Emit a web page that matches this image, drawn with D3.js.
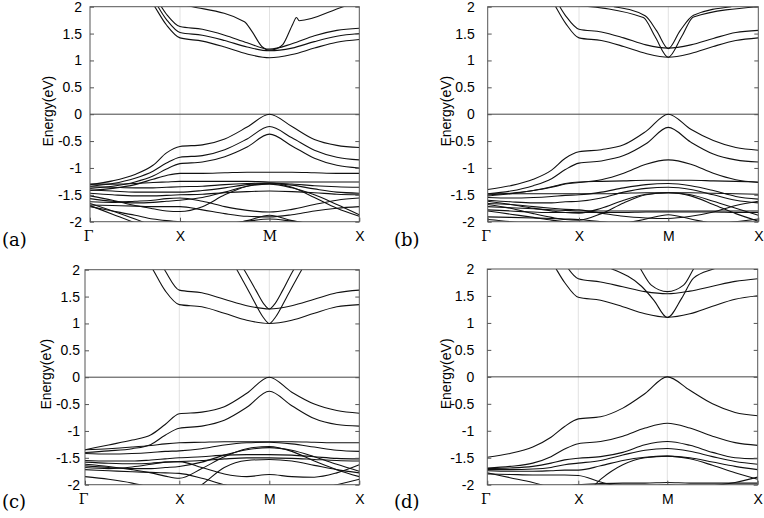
<!DOCTYPE html>
<html><head><meta charset="utf-8">
<script src="https://cdn.jsdelivr.net/npm/d3@7"></script>
<style>body{margin:0;background:#fff}svg{display:block}</style>
</head><body><svg id="chart" width="764" height="518"></svg>
<script>
// ---------- data ----------
const kTickLabels = ["Γ","X","M","X"];
const kTickPos = [0,1,2,3];
const kGrid = [0,0.25,0.5,0.7,0.85,1,1.25,1.5,1.75,2,2.25,2.5,2.75,3];
const yTicks = [2,1.5,1,0.5,0,-0.5,-1,-1.5,-2];
const yTickLabels = ["2","1.5","1","0.5","0","-0.5","-1","-1.5","-2"];
const panelLabels = ["(a)","(b)","(c)","(d)"];

const bandsA = [
 [3.5,3.0,2.5,2.05,1.66,1.42,1.36,1.25,1.12,1.05,1.11,1.23,1.34,1.39],
 [3.6,3.1,2.6,2.15,1.76,1.52,1.47,1.37,1.25,1.18,1.23,1.35,1.45,1.50],
 [3.7,3.2,2.7,2.25,1.86,1.63,1.58,1.47,1.33,1.21,1.31,1.46,1.56,1.60],
 [-1.31,-1.24,-1.12,-0.95,-0.72,-0.60,-0.57,-0.46,-0.24,0.0,-0.23,-0.47,-0.58,-0.62],
 [-1.34,-1.29,-1.19,-1.06,-0.91,-0.80,-0.77,-0.66,-0.46,-0.23,-0.44,-0.67,-0.80,-0.85],
 [-1.38,-1.34,-1.26,-1.15,-1.02,-0.92,-0.89,-0.79,-0.61,-0.37,-0.59,-0.82,-0.95,-1.00],
 [-1.42,-1.38,-1.31,-1.21,-1.14,-1.10,-1.10,-1.09,-1.08,-1.08,-1.08,-1.09,-1.10,-1.10],
 [-1.30,-1.30,-1.29,-1.27,-1.26,-1.25,-1.25,-1.25,-1.25,-1.26,-1.26,-1.26,-1.26,-1.26],
 [-1.35,-1.36,-1.37,-1.37,-1.36,-1.35,-1.34,-1.31,-1.29,-1.28,-1.30,-1.33,-1.35,-1.36],
 [-1.41,-1.43,-1.45,-1.45,-1.45,-1.45,-1.42,-1.37,-1.31,-1.29,-1.32,-1.39,-1.45,-1.47],
 [-1.47,-1.50,-1.52,-1.52,-1.51,-1.50,-1.49,-1.46,-1.44,-1.43,-1.44,-1.46,-1.49,-1.50],
 [-1.52,-1.60,-1.70,-1.76,-1.80,-1.81,-1.72,-1.50,-1.34,-1.28,-1.36,-1.55,-1.75,-1.90],
 [-1.57,-1.62,-1.65,-1.64,-1.62,-1.60,-1.55,-1.45,-1.34,-1.30,-1.37,-1.50,-1.68,-1.87],
 [-1.63,-1.64,-1.62,-1.60,-1.57,-1.56,-1.62,-1.72,-1.79,-1.82,-1.77,-1.68,-1.60,-1.56],
 [-1.69,-1.70,-1.71,-1.72,-1.72,-1.72,-1.78,-1.85,-1.90,-1.91,-1.87,-1.80,-1.75,-1.72],
 [-1.72,-1.80,-1.88,-1.95,-1.98,-2.00,-2.05,-2.05,-1.98,-1.88,-1.98,-2.05,-2.08,-2.10],
 [-1.66,-1.80,-1.95,-2.08,-2.18,-2.25,-2.30,-2.30,-2.30,-2.30,-2.30,-2.30,-2.30,-2.30],
 [-1.70,-1.86,-2.02,-2.14,-2.22,-2.28,-2.30,-2.30,-2.30,-2.30,-2.30,-2.30,-2.30,-2.30],
 [-2.30,-2.30,-2.25,-2.20,-2.12,-2.08,-2.06,-2.04,-1.99,-1.95,-1.99,-2.04,-2.06,-2.08]
];
const extraKA = [[1.02,1.14,1.72,1.80,1.92,2.0,2.08,2.15,2.26,2.30,2.33,2.82,2.9]];
const extraEA = [[2.04,2.0,1.72,1.55,1.25,1.19,1.22,1.30,1.68,1.80,1.74,2.0,2.04]];

const bandsB = [
 [3.5,3.0,2.5,2.12,1.70,1.42,1.37,1.26,1.13,1.06,1.13,1.26,1.37,1.42],
 [3.6,3.1,2.6,2.25,1.84,1.58,1.53,1.42,1.29,1.23,1.29,1.41,1.52,1.56],
 [-1.40,-1.33,-1.21,-1.04,-0.82,-0.70,-0.66,-0.57,-0.32,0.0,-0.28,-0.49,-0.62,-0.67],
 [-1.48,-1.43,-1.33,-1.20,-1.03,-0.91,-0.87,-0.77,-0.55,-0.245,-0.52,-0.74,-0.85,-0.89],
 [-1.50,-1.47,-1.42,-1.36,-1.30,-1.27,-1.22,-1.10,-0.93,-0.85,-0.93,-1.10,-1.22,-1.27],
 [-1.52,-1.48,-1.42,-1.35,-1.29,-1.26,-1.25,-1.24,-1.23,-1.23,-1.23,-1.24,-1.25,-1.26],
 [-1.48,-1.48,-1.48,-1.48,-1.48,-1.48,-1.48,-1.47,-1.46,-1.46,-1.46,-1.47,-1.48,-1.49],
 [-1.55,-1.56,-1.55,-1.53,-1.51,-1.50,-1.45,-1.37,-1.31,-1.29,-1.33,-1.42,-1.53,-1.58],
 [-1.60,-1.63,-1.65,-1.65,-1.63,-1.62,-1.56,-1.45,-1.38,-1.36,-1.40,-1.50,-1.60,-1.65],
 [-1.62,-1.68,-1.75,-1.80,-1.83,-1.84,-1.75,-1.60,-1.49,-1.46,-1.52,-1.68,-1.85,-1.99],
 [-1.68,-1.75,-1.85,-1.92,-1.96,-1.97,-1.85,-1.65,-1.50,-1.46,-1.50,-1.62,-1.75,-1.88],
 [-1.72,-1.74,-1.76,-1.78,-1.79,-1.80,-1.80,-1.80,-1.80,-1.80,-1.80,-1.80,-1.80,-1.80],
 [-1.78,-1.80,-1.82,-1.83,-1.83,-1.83,-1.83,-1.83,-1.82,-1.82,-1.82,-1.82,-1.83,-1.83],
 [-1.66,-1.68,-1.72,-1.75,-1.77,-1.78,-1.84,-1.90,-1.93,-1.94,-1.90,-1.82,-1.70,-1.62],
 [-1.80,-1.86,-1.92,-1.97,-2.00,-2.02,-2.05,-2.03,-1.95,-1.87,-1.95,-2.03,-2.05,-2.05],
 [-1.91,-1.92,-1.93,-1.94,-1.95,-1.96,-2.00,-2.05,-2.08,-2.10,-2.08,-2.05,-2.00,-1.95],
 [-1.96,-2.00,-2.05,-2.10,-2.15,-2.20,-2.20,-2.20,-2.20,-2.20,-2.20,-2.20,-2.20,-2.20]
];
const extraKB = [[0.95,1.72,1.85,2.0,2.15,2.28,3.0],[1.39,1.74,1.87,2.0,2.13,2.28,2.7]];
const extraEB = [[2.03,1.80,1.45,1.06,1.45,1.81,2.0],[2.0,1.83,1.55,1.22,1.55,1.84,2.0]];

const bandsC = [
 [3.5,3.0,2.5,2.06,1.61,1.35,1.31,1.19,1.06,1.00,1.06,1.19,1.31,1.35],
 [3.8,3.3,2.8,2.45,1.98,1.62,1.57,1.45,1.33,1.27,1.33,1.45,1.57,1.62],
 [-1.35,-1.26,-1.17,-1.07,-0.88,-0.68,-0.65,-0.55,-0.30,0.0,-0.28,-0.50,-0.62,-0.67],
 [-1.40,-1.37,-1.33,-1.25,-1.08,-0.95,-0.91,-0.80,-0.56,-0.26,-0.53,-0.77,-0.88,-0.91],
 [-1.35,-1.33,-1.30,-1.27,-1.24,-1.22,-1.21,-1.20,-1.20,-1.20,-1.20,-1.21,-1.22,-1.22],
 [-1.42,-1.43,-1.42,-1.40,-1.38,-1.37,-1.33,-1.26,-1.22,-1.21,-1.24,-1.30,-1.36,-1.38],
 [-1.55,-1.56,-1.56,-1.54,-1.52,-1.50,-1.48,-1.45,-1.44,-1.44,-1.45,-1.48,-1.51,-1.52],
 [-1.58,-1.60,-1.61,-1.60,-1.58,-1.57,-1.55,-1.52,-1.50,-1.50,-1.51,-1.53,-1.55,-1.56],
 [-1.62,-1.66,-1.72,-1.78,-1.84,-1.88,-1.70,-1.48,-1.33,-1.29,-1.38,-1.56,-1.72,-1.85],
 [-1.65,-1.68,-1.70,-1.70,-1.68,-1.66,-1.58,-1.45,-1.35,-1.31,-1.36,-1.48,-1.62,-1.75],
 [-2.60,-2.60,-2.50,-2.40,-2.30,-2.25,-2.00,-1.68,-1.55,-1.53,-1.56,-1.64,-1.72,-1.78],
 [-1.68,-1.70,-1.67,-1.62,-1.58,-1.57,-1.68,-1.80,-1.85,-1.81,-1.85,-1.86,-1.78,-1.63],
 [-1.72,-1.74,-1.76,-1.77,-1.78,-1.79,-1.88,-2.00,-2.10,-2.10,-2.10,-2.10,-2.10,-2.10],
 [-1.85,-1.90,-1.97,-2.05,-2.10,-2.15,-2.15,-2.15,-2.15,-2.15,-2.15,-2.15,-2.15,-2.15],
 [-2.30,-2.30,-2.30,-2.30,-2.30,-2.30,-2.30,-2.25,-2.20,-2.20,-2.15,-2.10,-2.00,-1.90]
];
const extraKC = [[1.5,1.64,1.81,1.93,2.0,2.07,2.19,2.36,2.5],[1.6,1.72,1.85,1.95,2.0,2.05,2.15,2.27,2.4]];
const extraEC = [[2.4,2.0,1.48,1.12,1.0,1.12,1.48,2.0,2.4],[2.3,2.0,1.62,1.34,1.27,1.34,1.62,2.0,2.3]];

const bandsD = [
 [3.5,3.0,2.5,2.15,1.75,1.475,1.42,1.30,1.17,1.105,1.17,1.31,1.44,1.505],
 [3.8,3.3,2.9,2.5,2.1,1.82,1.76,1.67,1.58,1.54,1.59,1.68,1.77,1.82],
 [-1.49,-1.42,-1.30,-1.12,-0.92,-0.78,-0.74,-0.58,-0.31,0.0,-0.25,-0.50,-0.66,-0.72],
 [-1.69,-1.66,-1.60,-1.48,-1.34,-1.24,-1.20,-1.10,-0.95,-0.86,-0.95,-1.10,-1.22,-1.27],
 [-1.70,-1.69,-1.66,-1.60,-1.54,-1.51,-1.48,-1.40,-1.26,-1.20,-1.27,-1.40,-1.50,-1.52],
 [-1.72,-1.72,-1.71,-1.68,-1.63,-1.60,-1.55,-1.45,-1.36,-1.33,-1.38,-1.48,-1.57,-1.62],
 [-1.74,-1.75,-1.75,-1.74,-1.73,-1.73,-1.65,-1.55,-1.49,-1.47,-1.50,-1.58,-1.66,-1.72],
 [-2.60,-2.60,-2.50,-2.40,-2.35,-2.30,-1.90,-1.63,-1.50,-1.47,-1.52,-1.64,-1.78,-1.90],
 [-1.80,-1.81,-1.82,-1.82,-1.82,-1.83,-1.95,-2.05,-2.10,-2.10,-2.10,-2.10,-2.10,-2.10],
 [-1.78,-1.87,-1.96,-2.05,-2.10,-2.15,-2.15,-2.15,-2.15,-2.15,-2.15,-2.15,-2.15,-2.15],
 [-2.05,-2.05,-2.05,-2.05,-2.03,-2.00,-1.98,-1.97,-1.97,-1.96,-1.97,-1.97,-1.97,-1.97],
 [-2.20,-2.20,-2.20,-2.20,-2.20,-2.20,-2.15,-2.10,-2.05,-2.00,-2.05,-2.02,-1.96,-1.86]
];
const extraKD = [[1.2,1.38,1.71,1.85,2.0,2.16,2.29,2.51,2.7],[1.6,1.70,1.82,2.0,2.18,2.29,2.4]];
const extraED = [[2.1,2.0,1.68,1.42,1.10,1.46,1.83,2.0,2.1],[2.3,2.0,1.70,1.58,1.70,2.0,2.3]];

// ---------- layout ----------
const panels = [
 {bands:bandsA, ek:extraKA, ee:extraEA, xs:[90,180,269.5,359.3], top:6.7, bottom:221.7, pad:8, ylabX:49, lab:[2,241], serifM:true},
 {bands:bandsB, ek:extraKB, ee:extraEB, xs:[487.7,579,668.3,758.3], top:6.7, bottom:221.7, pad:13, ylabX:447, lab:[394,241], serifM:false},
 {bands:bandsC, ek:extraKC, ee:extraEC, xs:[85,179.3,269.3,359.3], top:269.7, bottom:484.7, pad:5, ylabX:47, lab:[2,503], serifM:false},
 {bands:bandsD, ek:extraKD, ee:extraED, xs:[487.3,578.3,667.3,757.7], top:269, bottom:484.7, pad:13, ylabX:447, lab:[394,503], serifM:false}
];

const svg = d3.select("#chart");
const sans = "'Liberation Sans', Arial, Helvetica, sans-serif";
const serif = "'DejaVu Serif', 'Liberation Serif', serif";

panels.forEach((p, i) => {
  const x = d3.scaleLinear().domain(kTickPos).range(p.xs);
  const y = d3.scaleLinear().domain([-2, 2]).range([p.bottom, p.top]);
  const g = svg.append("g");
  const cid = "clip" + i;
  svg.append("clipPath").attr("id", cid).append("rect")
    .attr("x", p.xs[0]).attr("y", p.top)
    .attr("width", p.xs[3] - p.xs[0]).attr("height", p.bottom - p.top);

  // vertical grid lines at X and M
  g.selectAll("line.grid").data([1, 2]).join("line").attr("class", "grid")
    .attr("x1", d => x(d)).attr("x2", d => x(d))
    .attr("y1", p.top).attr("y2", p.bottom)
    .attr("stroke", "#e2e2e2").attr("stroke-width", 1);

  // zero line
  g.append("line").attr("x1", p.xs[0]).attr("x2", p.xs[3])
    .attr("y1", y(0)).attr("y2", y(0)).attr("stroke", "#444").attr("stroke-width", 1);

  const line = d3.line().x(d => x(d[0])).y(d => y(d[1])).curve(d3.curveMonotoneX);
  const bg = g.append("g").attr("clip-path", `url(#${cid})`)
    .attr("fill", "none").attr("stroke", "#111").attr("stroke-width", 1.1);
  p.bands.forEach(b => bg.append("path").attr("d", line(kGrid.map((k, j) => [k, b[j]]))));
  p.ek.forEach((ks, j) => bg.append("path").attr("d", line(ks.map((k, m) => [k, p.ee[j][m]]))));

  // frame
  g.append("rect").attr("x", p.xs[0]).attr("y", p.top)
    .attr("width", p.xs[3] - p.xs[0]).attr("height", p.bottom - p.top)
    .attr("fill", "none").attr("stroke", "#555").attr("stroke-width", 1);

  // y axis (left, labels) and mirrored ticks (right)
  const ya = d3.axisLeft(y).tickValues(yTicks).tickSizeInner(-4).tickSizeOuter(0).tickPadding(p.pad)
    .tickFormat((d, j) => yTickLabels[j]);
  const yg = g.append("g").attr("transform", `translate(${p.xs[0]},0)`).call(ya);
  yg.select(".domain").remove();
  yg.selectAll(".tick line").attr("stroke", "#555");
  yg.selectAll("text").attr("font-family", sans).attr("font-size", 14).attr("fill", "#000");
  const yr = d3.axisRight(y).tickValues(yTicks).tickSizeInner(-4).tickSizeOuter(0).tickFormat("");
  const yrg = g.append("g").attr("transform", `translate(${p.xs[3]},0)`).call(yr);
  yrg.select(".domain").remove();
  yrg.selectAll(".tick line").attr("stroke", "#555");

  // x tick labels
  const xa = d3.axisBottom(x).tickValues(kTickPos).tickSizeInner(-4).tickSizeOuter(0).tickPadding(9)
    .tickFormat((d, j) => kTickLabels[j]);
  const xg = g.append("g").attr("transform", `translate(0,${p.bottom})`).call(xa);
  xg.select(".domain").remove();
  xg.selectAll(".tick line").attr("stroke", "#555");
  xg.selectAll("text").attr("fill", "#000").attr("font-size", 14)
    .attr("font-family", (d, j) => (j === 0 || (j === 2 && p.serifM)) ? serif : sans)
    .attr("dx", (d, j) => j === 0 ? -2 : 0);

  // y axis title
  g.append("text").attr("transform", `translate(${p.ylabX},${(p.top + p.bottom) / 2 - 3}) rotate(-90)`)
    .attr("text-anchor", "middle").attr("dominant-baseline", "middle")
    .attr("font-family", sans).attr("font-size", 14).text("Energy(eV)");

  // panel label
  g.append("text").attr("x", p.lab[0]).attr("y", p.lab[1]).attr("dominant-baseline", "middle")
    .attr("font-family", serif).attr("font-size", 18).text(panelLabels[i]);
});
</script>
</body></html>
